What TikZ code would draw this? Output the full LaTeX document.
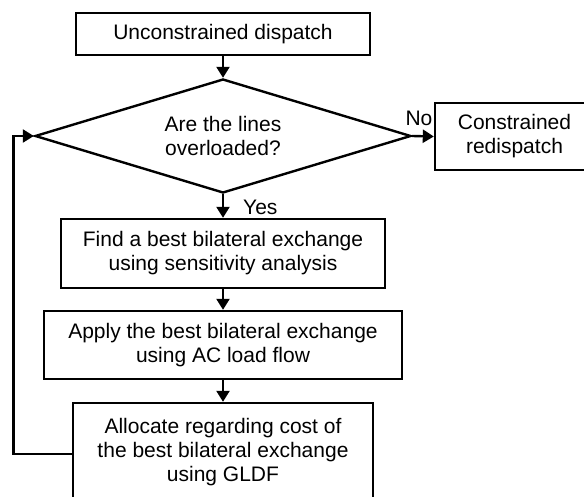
\documentclass[tikz,border=0pt]{standalone}
\usepackage{fontspec}
\setmainfont{Liberation Sans}
\usetikzlibrary{shapes.geometric,arrows.meta}
\tikzset{
  base/.style={draw=black, line width=2.4pt, inner sep=0pt, align=center,
    font=\fontsize{21}{24}\selectfont},
  procbox/.style={base, rectangle},
  decision/.style={base, diamond, aspect=3.3},
  arr/.style={line width=2.4pt, -{Triangle[length=11pt,width=13pt]}},
  lbl/.style={inner sep=0pt, font=\fontsize{21}{24}\selectfont}
}
\begin{document}
\begin{tikzpicture}[x=1pt,y=-1pt]
\useasboundingbox (0,0) rectangle (584,497);
\clip (0,0) rectangle (584,497);
\fill[white] (0,0) rectangle (584,497);
\node[procbox, minimum width=294pt, minimum height=42pt] (start) at (223,34) {Unconstrained dispatch};
\node[decision, minimum width=376pt, minimum height=114pt] (dia) at (223,136) {Are the lines\\overloaded?};
\node[procbox, minimum width=159pt, minimum height=67pt] (cons) at (514.5,136.5) {Constrained\\redispatch};
\node[procbox, minimum width=324pt, minimum height=69pt] (find) at (223,253.5) {Find a best bilateral exchange\\using sensitivity analysis};
\node[procbox, minimum width=358pt, minimum height=68pt] (apply) at (223,345) {Apply the best bilateral exchange\\using AC load flow};
\node[procbox, minimum width=300pt, minimum height=98pt] (alloc) at (223,452) {Allocate regarding cost of\\the best bilateral exchange\\using GLDF};
\coordinate (lp) at (13.5,0);
\draw[arr] (start) -- (dia);
\draw[arr] (dia.east) -- (cons.west);
\draw[arr] (dia.south) -- (find.north);
\draw[arr] (find) -- (apply);
\draw[arr] (apply) -- (alloc);
\draw[arr] ([yshift=-2pt]alloc.west) -| (lp |- dia.west) -- (dia.west);
\node[lbl, anchor=base] (no) at (419,126) {No};
\node[lbl, anchor=base west] (yes) at (243,215) {Yes};
\end{tikzpicture}
\end{document}
